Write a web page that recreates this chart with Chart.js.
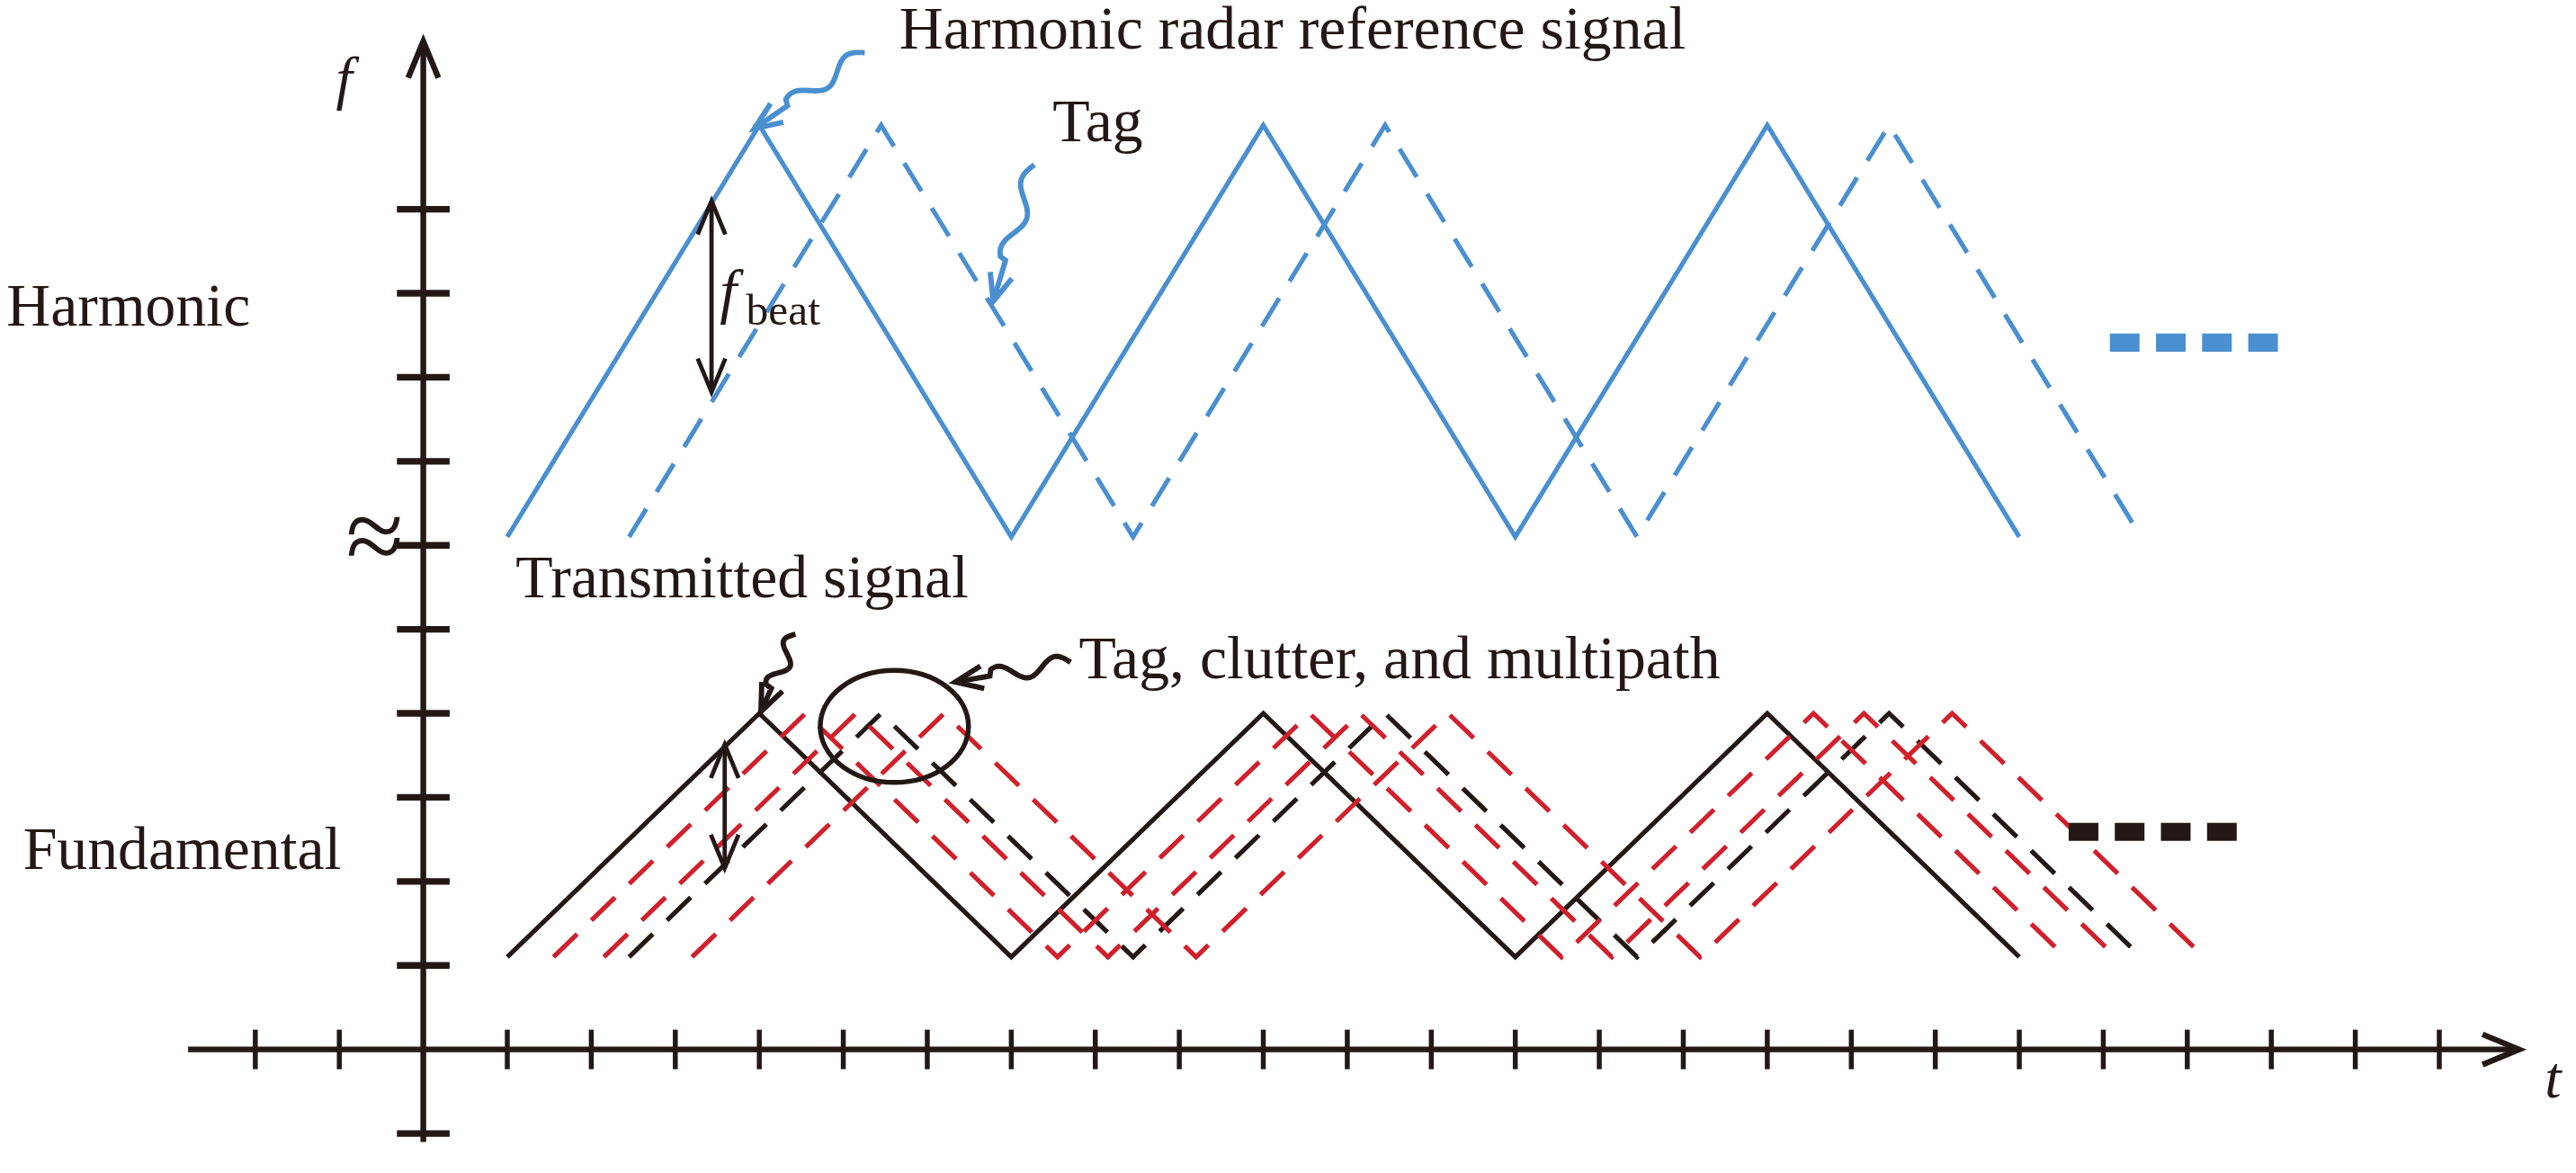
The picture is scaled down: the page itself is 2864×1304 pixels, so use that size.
<!DOCTYPE html>
<html>
<head>
<meta charset="utf-8">
<script src="https://cdn.jsdelivr.net/npm/chart.js@4/dist/chart.umd.min.js"></script>
<style>
  html, body { margin: 0; padding: 0; background: #fff; }
  #wrap { width: 2864px; height: 1304px; }
</style>
</head>
<body>
<div id="wrap"><canvas id="c" width="2864" height="1304"></canvas></div>
<script>
'use strict';

/* ── Data (time units / frequency units) ─────────────────────── */
const vertexT      = [1, 4, 7, 10, 13, 16, 19];   // triangle corners of the reference sweep
const harmLevels   = [6.1, 11, 6.1, 11, 6.1, 11, 6.1];
const fundLevels   = [1.1, 4, 1.1, 4, 1.1, 4, 1.1];
const tagDelay     = 1.45;                         // dashed tag echo
const clutterDelay = [0.55, 1.15, 2.2];            // red clutter / multipath echoes
const xTicks       = [-2, -1, 1, 2, 3, 4, 5, 6, 7, 8, 9, 10, 11, 12, 13, 14, 15, 16, 17, 18, 19, 20, 21, 22, 23, 24];
const yTicks       = [-1, 1, 2, 3, 4, 5, 6, 7, 8, 9, 10];

const S     = 2864 / 1564;   // picture scale
const BLUE  = '#4a8fd0';
const RED   = '#d0202c';
const INK   = '#231815';
const SERIF = "'Liberation Serif', 'DejaVu Serif', serif";

function sweep(levels, delay) {
  return vertexT.map((t, i) => ({ x: t + delay, y: levels[i] }));
}

function line(label, data, color, dashed) {
  return {
    label, data,
    showLine: true, pointRadius: 0, borderColor: color,
    borderWidth: 2.8 * S, borderDash: dashed ? [20 * S, 12 * S] : [],
    tension: 0, fill: false,
  };
}

const datasets = [
  line('Harmonic reference', sweep(harmLevels, 0), BLUE, false),
  line('Harmonic tag', sweep(harmLevels, tagDelay), BLUE, true),
  ...clutterDelay.map(d => line('Clutter ' + d, sweep(fundLevels, d), RED, true)),
  line('Fundamental tag', sweep(fundLevels, tagDelay), INK, true),
  line('Transmitted', sweep(fundLevels, 0), INK, false),
];

/* ── Drawing helpers (display px → canvas px) ─────────────────── */
function arrowHead(ctx, x, y, ang, len) {
  ctx.beginPath();
  ctx.moveTo(x + len * Math.cos(ang + 2.75), y + len * Math.sin(ang + 2.75));
  ctx.lineTo(x, y);
  ctx.lineTo(x + len * Math.cos(ang - 2.75), y + len * Math.sin(ang - 2.75));
  ctx.stroke();
}

function squiggle(ctx, x0, y0, x1, y1, color) {
  const dx = x1 - x0, dy = y1 - y0, L = Math.hypot(dx, dy);
  const nx = -dy / L, ny = dx / L;
  ctx.strokeStyle = color; ctx.lineWidth = 3.2 * S;
  ctx.beginPath();
  for (let i = 0; i <= 60; i++) {
    const f = i / 60, w = Math.sin(f * Math.PI * 4) * 5 * (f < 0.7 ? 1 : 0);
    const px = x0 + dx * f + nx * w, py = y0 + dy * f + ny * w;
    i ? ctx.lineTo(px * S, py * S) : ctx.moveTo(px * S, py * S);
  }
  ctx.stroke();
  arrowHead(ctx, x1 * S, y1 * S, Math.atan2(dy, dx), 18 * S);
}

function dblArrow(ctx, x, yTop, yBot) {
  ctx.strokeStyle = INK; ctx.lineWidth = 2.6 * S;
  ctx.beginPath(); ctx.moveTo(x * S, yTop * S); ctx.lineTo(x * S, yBot * S); ctx.stroke();
  arrowHead(ctx, x * S, yTop * S, -Math.PI / 2, 22 * S);
  arrowHead(ctx, x * S, yBot * S, Math.PI / 2, 22 * S);
}

function text(ctx, str, x, y, size, italic) {
  ctx.font = (italic ? 'italic ' : '') + size * S + 'px ' + SERIF;
  ctx.fillStyle = INK; ctx.textBaseline = 'middle'; ctx.textAlign = 'left';
  ctx.fillText(str, x * S, y * S);
}

/* ── Axes + annotations plugin ───────────────────────────────── */
const axesPlugin = {
  id: 'axes',
  beforeDatasetsDraw(chart) {
    const { ctx, scales: { x, y } } = chart;
    const X = v => x.getPixelForValue(v), Y = v => y.getPixelForValue(v);
    ctx.save();
    ctx.strokeStyle = INK; ctx.lineWidth = 3.5 * S; ctx.lineCap = 'butt';
    // t axis
    ctx.beginPath(); ctx.moveTo(X(-2.8), Y(0)); ctx.lineTo(X(24.95), Y(0)); ctx.stroke();
    arrowHead(ctx, X(24.95), Y(0), 0, 24 * S);
    // f axis
    ctx.beginPath(); ctx.moveTo(X(0), Y(-1.1)); ctx.lineTo(X(0), Y(12.0)); ctx.stroke();
    arrowHead(ctx, X(0), Y(12.0), -Math.PI / 2, 24 * S);
    ctx.lineWidth = 3 * S;
    xTicks.forEach(t => {
      ctx.beginPath(); ctx.moveTo(X(t), Y(0) - 12 * S); ctx.lineTo(X(t), Y(0) + 12 * S); ctx.stroke();
    });
    ctx.lineWidth = 4 * S;
    yTicks.forEach(f => {
      ctx.beginPath(); ctx.moveTo(X(0) - 16 * S, Y(f)); ctx.lineTo(X(0) + 16 * S, Y(f)); ctx.stroke();
    });
    ctx.restore();
  },
  afterDatasetsDraw(chart) {
    const { ctx } = chart;
    ctx.save();
    // axis break mark
    text(ctx, '≈', 210, 330, 64, false);
    // labels
    text(ctx, 'f', 204, 50, 36, true);
    text(ctx, 't', 1545, 657, 36, true);
    text(ctx, 'Harmonic', 4, 188, 37, false);
    text(ctx, 'Fundamental', 14, 518, 37, false);
    text(ctx, 'Harmonic radar reference signal', 546, 20, 37, false);
    text(ctx, 'Tag', 639, 76, 37, false);
    text(ctx, 'Transmitted signal', 313, 353, 37, false);
    text(ctx, 'Tag, clutter, and multipath', 655, 402, 37, false);
    text(ctx, 'f', 437, 180, 37, true);
    text(ctx, 'beat', 453, 190, 27, false);
    // pointers
    squiggle(ctx, 525, 32, 458, 78, BLUE);
    squiggle(ctx, 628, 100, 603, 183, BLUE);
    squiggle(ctx, 483, 385, 462, 432, INK);
    squiggle(ctx, 650, 402, 580, 414, INK);
    dblArrow(ctx, 432, 122, 238);
    dblArrow(ctx, 440, 452, 527);
    // circle around echoes
    ctx.strokeStyle = INK; ctx.lineWidth = 3 * S;
    ctx.beginPath(); ctx.ellipse(543 * S, 441 * S, 45 * S, 34 * S, 0, 0, Math.PI * 2); ctx.stroke();
    // continuation marks
    ctx.lineWidth = 11 * S;
    ctx.setLineDash([18 * S, 10 * S]);
    ctx.strokeStyle = BLUE;
    ctx.beginPath(); ctx.moveTo(1281 * S, 208 * S); ctx.lineTo(1390 * S, 208 * S); ctx.stroke();
    ctx.strokeStyle = INK;
    ctx.beginPath(); ctx.moveTo(1256 * S, 505 * S); ctx.lineTo(1365 * S, 505 * S); ctx.stroke();
    ctx.restore();
  }
};

new Chart(document.getElementById('c'), {
  type: 'scatter',
  data: { datasets },
  options: {
    responsive: false,
    animation: false,
    layout: { padding: 0 },
    plugins: { legend: { display: false }, tooltip: { enabled: false } },
    scales: {
      x: { type: 'linear', min: -257 / 51, max: (1564 - 257) / 51, display: false },
      y: { type: 'linear', min: (637 - 712) / 51, max: 637 / 51, display: false },
    },
  },
  plugins: [axesPlugin],
});
</script>
</body>
</html>
